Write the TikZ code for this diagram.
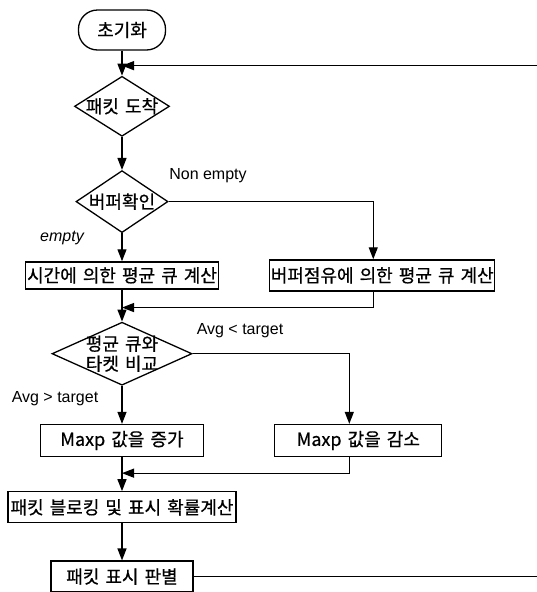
\documentclass[tikz,border=0pt]{standalone}
\usepackage{fontspec}
\setmainfont{Liberation Sans}
\newfontfamily\kr[WordSpace=1.5, FakeBold=0.6]{Noto Sans CJK KR}
\usetikzlibrary{positioning, arrows.meta, shapes.geometric}

\begin{document}
\begin{tikzpicture}[x=1pt, y=-1pt,
    stepbox/.style={rectangle, draw, line width=1.3pt, inner sep=1pt, font=\kr\fontsize{18}{20}\selectfont, align=center},
    startbox/.style={stepbox, rounded corners=19pt, minimum height=40pt},
    decision/.style={diamond, draw, line width=1.3pt, inner sep=-4pt, font=\kr\fontsize{18}{20}\selectfont, align=center},
    lbl/.style={font=\fontsize{16}{18}\selectfont},
    arrow/.style={-{Triangle[length=12pt, width=9pt]}, line width=1.3pt}
]
\useasboundingbox (0,0) rectangle (536,592);

% main column
\node[startbox, minimum width=87pt] (init) at (122,30) {초기화};
\node[decision, minimum width=95pt, minimum height=60pt, shape aspect=1.6, below=25pt of init] (arrive) {패킷 도착};
\node[decision, minimum width=92pt, minimum height=62pt, shape aspect=1.5, below=33pt of arrive] (check) {버퍼확인};
\node[stepbox, minimum width=193pt, minimum height=27pt, below=28pt of check] (timebox) {시간에 의한 평균 큐 계산};
\node[decision, minimum width=140pt, minimum height=63pt, shape aspect=2.2, below=32pt of timebox] (compare) {평균 큐와\\타켓 비교};
\node[stepbox, minimum width=163pt, minimum height=32pt, below=38pt of compare] (incbox) {Maxp 값을 증가};
\node[stepbox, minimum width=228pt, minimum height=31pt, below=34pt of incbox] (blockbox) {패킷 블로킹 및 표시 확률계산};
\node[stepbox, minimum width=142pt, minimum height=31pt, below=37pt of blockbox] (markbox) {패킷 표시 판별};

% right column
\node[stepbox, minimum width=215pt, minimum height=31pt, right=50pt of timebox] (bufbox) {버퍼점유에 의한 평균 큐 계산};
\node[stepbox, minimum width=167pt, minimum height=32pt, right=70pt of incbox] (decbox) {Maxp 값을 감소};

% branch labels
\node[lbl] (nonempty) at (208,176) {Non empty};
\node[lbl, font=\itshape\fontsize{16}{18}\selectfont] (empty) at (62,238) {empty};
\node[lbl] (avglow) at (240,331) {Avg < target};
\node[lbl] (avghigh) at (55,399) {Avg > target};

% joins
\coordinate[below=15pt of init] (join1);
\coordinate[below=18pt of timebox] (join2);
\coordinate[below=16pt of incbox] (join3);
\coordinate (loopedge) at (545,0);

\draw[arrow] (init) -- (arrive);
\draw[arrow] (arrive) -- (check);
\draw[arrow] (check) -- (timebox);
\draw[arrow] (check.east) -| ([xshift=-9pt]bufbox.north);
\draw[arrow] (timebox) -- (compare);
\draw[arrow] ([xshift=-9pt]bufbox.south) |- (join2);
\draw[arrow] (compare) -- (incbox);
\draw[arrow] (compare.east) -| ([xshift=-9pt]decbox.north);
\draw[arrow] (incbox) -- (blockbox);
\draw[arrow] ([xshift=-9pt]decbox.south) |- (join3);
\draw[arrow] (blockbox) -- (markbox);
\draw[arrow] (markbox.east) -- (markbox.east -| loopedge) |- (join1);

\end{tikzpicture}
\end{document}
